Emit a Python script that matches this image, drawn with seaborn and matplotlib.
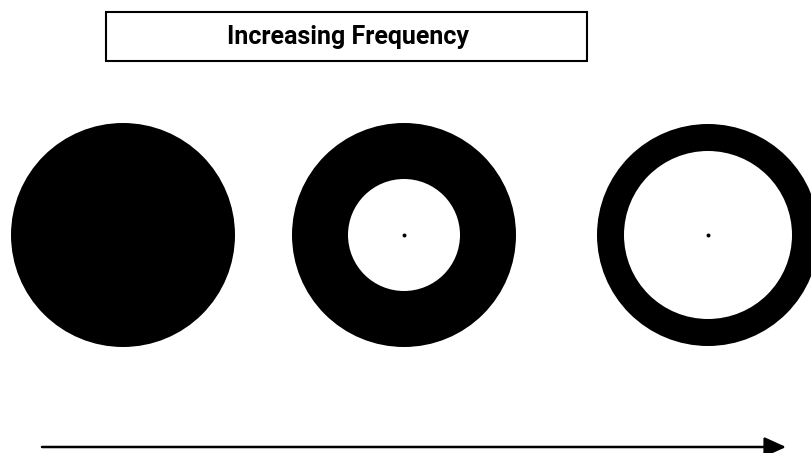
import matplotlib
matplotlib.use("Agg")
import matplotlib.pyplot as plt
from matplotlib.patches import Circle, Rectangle
import seaborn as sns
import pandas as pd

# Data
stages = ["Low", "Medium", "High"]
center_x = [123, 404, 708]
center_y = [235, 235, 235]
outer_radius = [112, 112, 111]
inner_radius = [0, 56, 84]
title_text = "Increasing Frequency"

sns.set_theme(style="white")
plt.rcParams['font.family'] = ['Roboto', 'DejaVu Sans']

fig = plt.figure(figsize=(8.12, 4.53), dpi=100)
ax = fig.add_axes([0, 0, 1, 1])

df = pd.DataFrame({"stage": stages, "x": center_x, "y": center_y,
                   "ro": outer_radius, "ri": inner_radius})

for _, r in df.iterrows():
    ax.add_patch(Circle((r.x, r.y), r.ro, facecolor="black", edgecolor="none", zorder=1))
    if r.ri > 0:
        ax.add_patch(Circle((r.x, r.y), r.ri, facecolor="white", edgecolor="none", zorder=2))

dots = df[df.ri > 0]
sns.scatterplot(data=dots, x="x", y="y", ax=ax, color="black", s=8, linewidth=0, zorder=3, legend=False)
ax.set_xlim(0, 812)
ax.set_ylim(453, 0)
ax.axis("off")

# Title box
ax.add_patch(Rectangle((106, 12), 481, 49, facecolor="white", edgecolor="black", linewidth=1.5, zorder=4))
ax.text(348, 37, title_text, ha="center", va="center", fontsize=18, fontweight="bold",
        color="black", zorder=5)

# Arrow
ax.annotate("", xy=(786, 447), xytext=(42, 447),
            arrowprops=dict(arrowstyle="-|>,head_length=1.1,head_width=0.5", color="black",
                            lw=1.8, shrinkA=0, shrinkB=0), zorder=5)

fig.savefig("out.png", dpi=100)
